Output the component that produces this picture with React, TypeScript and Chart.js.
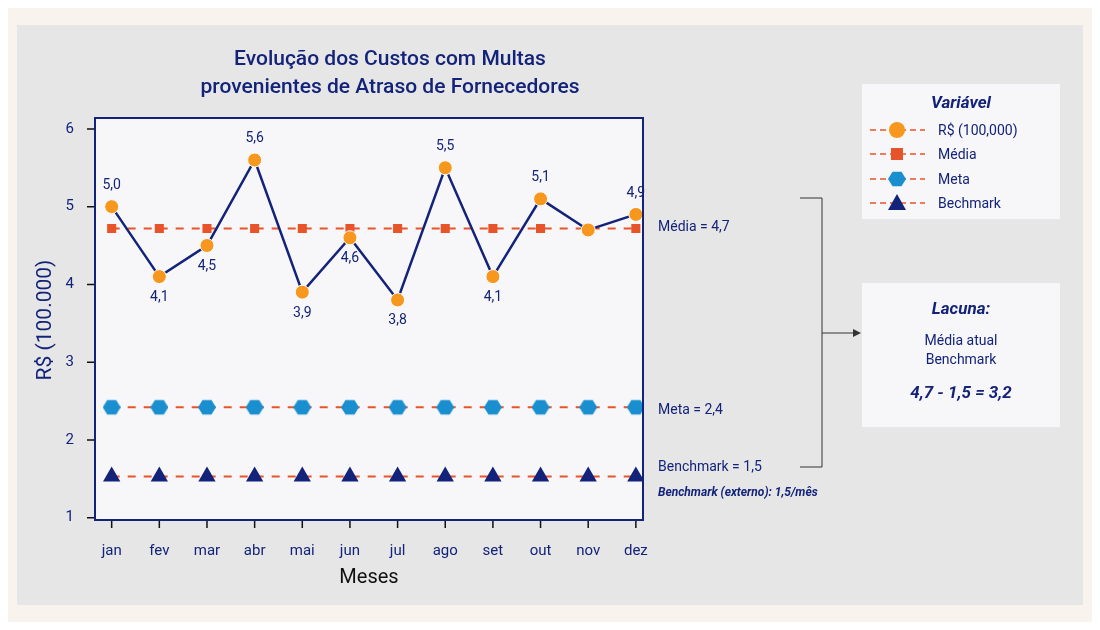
import Chart from 'chart.js/auto';
import React, { useEffect, useRef } from 'react';

const months = ['jan', 'fev', 'mar', 'abr', 'mai', 'jun', 'jul', 'ago', 'set', 'out', 'nov', 'dez'];
const custos = [5.0, 4.1, 4.5, 5.6, 3.9, 4.6, 3.8, 5.5, 4.1, 5.1, 4.7, 4.9];
const labelAbove = [true, false, false, true, false, false, false, true, false, true, null, true];
const media = 4.72;
const meta = 2.42;
const benchmark = 1.53;
const yTicks = [1, 2, 3, 4, 5, 6];

const NAVY = '#13237a';
const ORANGE = '#f7971e';
const RED = '#e8542a';
const BLUE = '#1a8fd0';
const FONT = 'Roboto, "Noto Sans", sans-serif';

function hexagon(size: number, color: string) {
  const c = document.createElement('canvas');
  c.width = size;
  c.height = size;
  const g = c.getContext('2d')!;
  const r = size / 2;
  g.fillStyle = color;
  g.beginPath();
  for (let i = 0; i < 6; i++) {
    const a = (Math.PI / 3) * i;
    const x = r + r * Math.cos(a);
    const y = r + r * 0.92 * Math.sin(a);
    if (i === 0) g.moveTo(x, y);
    else g.lineTo(x, y);
  }
  g.closePath();
  g.fill();
  return c;
}

const flat = (v: number) => months.map((_, i) => ({ x: i, y: v }));

const App: React.FC = () => {
  const ref = useRef<HTMLCanvasElement>(null);

  useEffect(() => {
    if (!ref.current) return;
    const hex = hexagon(18, BLUE);

    const decor = {
      id: 'decor',
      beforeDraw(chart: any) {
        const ctx = chart.ctx;
        ctx.save();
        ctx.fillStyle = '#f8f3ec';
        ctx.fillRect(0, 0, 1100, 630);
        ctx.fillStyle = '#e6e6e6';
        ctx.fillRect(17, 25, 1066, 580);
        const a = chart.chartArea;
        ctx.fillStyle = '#f7f7f9';
        ctx.fillRect(a.left, a.top, a.right - a.left, a.bottom - a.top);
        ctx.fillRect(862, 84, 198, 135);
        ctx.fillRect(862, 283, 198, 144);
        ctx.restore();
      },
      afterDraw(chart: any) {
        const ctx = chart.ctx;
        const a = chart.chartArea;
        const xs = chart.scales.x;
        const ys = chart.scales.y;
        ctx.save();
        ctx.strokeStyle = NAVY;
        ctx.lineWidth = 2;
        ctx.strokeRect(a.left, a.top, a.right - a.left, a.bottom - a.top);

        // axis ticks and titles
        ctx.strokeStyle = '#111';
        ctx.lineWidth = 1.5;
        ctx.beginPath();
        months.forEach((_, i) => {
          const px = xs.getPixelForValue(i);
          ctx.moveTo(px, a.bottom + 1);
          ctx.lineTo(px, a.bottom + 8);
        });
        yTicks.forEach((v) => {
          const py = ys.getPixelForValue(v);
          ctx.moveTo(a.left - 1, py);
          ctx.lineTo(a.left - 8, py);
        });
        ctx.stroke();

        ctx.fillStyle = '#111';
        ctx.textAlign = 'center';
        ctx.textBaseline = 'middle';
        ctx.font = `20px ${FONT}`;
        ctx.fillText('Meses', 369, 578);
        ctx.save();
        ctx.translate(46, 320);
        ctx.rotate(-Math.PI / 2);
        ctx.fillStyle = NAVY;
        ctx.font = `21px ${FONT}`;
        ctx.fillText('R$ (100.000)', 0, 0);
        ctx.restore();

        ctx.fillStyle = NAVY;
        ctx.font = `500 21px ${FONT}`;
        ctx.fillText('Evolução dos Custos com Multas', 390, 60);
        ctx.fillText('provenientes de Atraso de Fornecedores', 390, 88);

        ctx.font = `14px ${FONT}`;
        custos.forEach((v, i) => {
          const up = labelAbove[i];
          if (up === null) return;
          const px = xs.getPixelForValue(i);
          const py = ys.getPixelForValue(v);
          ctx.fillText(v.toFixed(1).replace('.', ','), px, up ? py - 21 : py + 21);
        });

        ctx.textAlign = 'left';
        ctx.fillText('Média = 4,7', 658, 227);
        ctx.fillText('Meta = 2,4', 658, 410);
        ctx.fillText('Benchmark = 1,5', 658, 467);
        ctx.font = `italic bold 12px ${FONT}`;
        ctx.fillText('Benchmark (externo): 1,5/mês', 658, 493);

        ctx.strokeStyle = '#333';
        ctx.lineWidth = 1;
        ctx.beginPath();
        ctx.moveTo(800, 198);
        ctx.lineTo(822, 198);
        ctx.lineTo(822, 467);
        ctx.lineTo(800, 467);
        ctx.moveTo(822, 333);
        ctx.lineTo(855, 333);
        ctx.stroke();
        ctx.fillStyle = '#333';
        ctx.beginPath();
        ctx.moveTo(861, 333);
        ctx.lineTo(853, 329);
        ctx.lineTo(853, 337);
        ctx.fill();

        ctx.fillStyle = NAVY;
        ctx.textAlign = 'center';
        ctx.font = `italic bold 17px ${FONT}`;
        ctx.fillText('Variável', 961, 104);
        ctx.fillText('Lacuna:', 961, 310);
        ctx.font = `14px ${FONT}`;
        ctx.fillText('Média atual', 961, 341);
        ctx.fillText('Benchmark', 961, 360);
        ctx.font = `italic bold 17px ${FONT}`;
        ctx.fillText('4,7 - 1,5 = 3,2', 961, 394);

        const legend = [
          { t: 'R$ (100,000)', y: 130, m: 'circle' },
          { t: 'Média', y: 154, m: 'rect' },
          { t: 'Meta', y: 179, m: 'hex' },
          { t: 'Bechmark', y: 203, m: 'tri' },
        ];
        legend.forEach((l) => {
          ctx.strokeStyle = RED;
          ctx.lineWidth = 1.5;
          ctx.setLineDash([6, 4]);
          ctx.beginPath();
          ctx.moveTo(870, l.y);
          ctx.lineTo(925, l.y);
          ctx.stroke();
          ctx.setLineDash([]);
          const cx = 897;
          if (l.m === 'circle') {
            ctx.fillStyle = ORANGE;
            ctx.beginPath();
            ctx.arc(cx, l.y, 8, 0, Math.PI * 2);
            ctx.fill();
          } else if (l.m === 'rect') {
            ctx.fillStyle = RED;
            ctx.fillRect(cx - 6, l.y - 6, 12, 12);
          } else if (l.m === 'hex') {
            ctx.drawImage(hex, cx - 9, l.y - 9);
          } else {
            ctx.fillStyle = NAVY;
            ctx.beginPath();
            ctx.moveTo(cx, l.y - 9);
            ctx.lineTo(cx + 9, l.y + 7);
            ctx.lineTo(cx - 9, l.y + 7);
            ctx.fill();
          }
          ctx.fillStyle = NAVY;
          ctx.textAlign = 'left';
          ctx.font = `14px ${FONT}`;
          ctx.fillText(l.t, 938, l.y + 1);
        });
        ctx.restore();
      },
    };

    const refLine = (label: string, v: number, style: any, size: number, color: string) => ({
      label,
      data: flat(v),
      borderColor: RED,
      borderWidth: 2,
      borderDash: [8, 8],
      pointStyle: style,
      pointRadius: size,
      pointBackgroundColor: color,
      pointBorderColor: color,
      order: 2,
    });

    const chart = new Chart(ref.current, {
      type: 'line',
      data: {
        datasets: [
          refLine('Média', media, 'rect', 5, RED),
          refLine('Meta', meta, hex, 9, BLUE),
          refLine('Benchmark', benchmark, 'triangle', 8, NAVY),
          {
            label: 'R$ (100,000)',
            data: custos.map((y, x) => ({ x, y })),
            borderColor: NAVY,
            borderWidth: 2.5,
            pointRadius: 7,
            pointBackgroundColor: ORANGE,
            pointBorderColor: '#fff',
            pointBorderWidth: 1,
            order: 1,
          },
        ],
      },
      options: {
        responsive: false,
        animation: false,
        layout: { padding: { top: 118, right: 457, left: 0, bottom: 0 } },
        plugins: { legend: { display: false }, tooltip: { enabled: false } },
        scales: {
          x: {
            type: 'linear',
            min: -0.35,
            max: 11.15,
            afterFit: (s: any) => { s.height = 110; },
            afterBuildTicks: (s: any) => { s.ticks = months.map((_, i) => ({ value: i })); },
            grid: { display: false },
            border: { display: false },
            ticks: {
              color: NAVY,
              font: { family: FONT, size: 15 },
              padding: 14,
              callback: (v: any) => months[v] ?? '',
            },
          },
          y: {
            min: 0.97,
            max: 6.14,
            afterFit: (s: any) => { s.width = 95; },
            afterBuildTicks: (s: any) => { s.ticks = yTicks.map((value) => ({ value })); },
            grid: { display: false },
            border: { display: false },
            ticks: { color: NAVY, font: { family: FONT, size: 15 }, padding: 13 },
          },
        },
      },
      plugins: [decor],
    } as any);

    return () => chart.destroy();
  }, []);

  return (
    <div style={{ width: 1100, height: 630, margin: -8 }}>
      <canvas ref={ref} width={1100} height={630} style={{ display: 'block' }} />
    </div>
  );
};

export default App;
